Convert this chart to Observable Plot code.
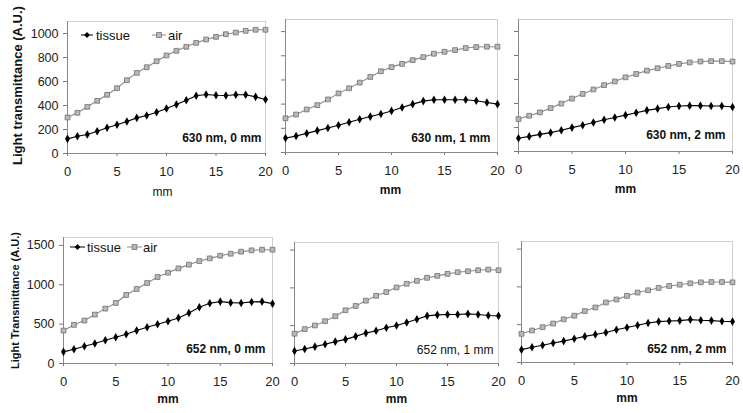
<!DOCTYPE html>
<html><head><meta charset="utf-8">
<script src="https://cdn.jsdelivr.net/npm/d3@7"></script>
<script src="https://cdn.jsdelivr.net/npm/@observablehq/plot@0.6"></script>
<style>
body{margin:0;background:#fff;font-family:"Liberation Sans",Arial,sans-serif}
#c{position:relative;width:743px;height:413px;overflow:hidden;background:#fff}
#c svg{position:absolute;left:0;top:0}
</style></head><body><div id="c"></div>
<script>
const mm = [0,1,2,3,4,5,6,7,8,9,10,11,12,13,14,15,16,17,18,19,20];
const xTicks = [0,5,10,15,20];
const yTicksTop = [0,200,400,600,800,1000];
const yTicksBottom = [0,500,1000,1500];
const seriesNames = ["tissue","air"];

const tissue630_0 = [122,144,158,186,214,239,267,297,317,344,375,408,444,481,492,486,483,489,489,472,450];
const air630_0    = [300,339,389,439,489,544,611,672,719,769,817,856,889,922,950,972,994,1008,1022,1031,1031];
const tissue630_1 = [119,136,158,181,203,225,250,275,297,319,344,372,400,425,436,436,436,436,428,414,400];
const air630_1    = [283,314,356,392,439,489,531,578,625,672,706,733,764,789,817,833,847,864,872,875,875];
const tissue630_2 = [110,126,143,157,177,199,219,242,264,284,303,323,343,357,371,379,382,382,379,379,371];
const air630_2    = [270,298,326,362,399,441,480,517,553,584,618,646,674,694,713,730,742,750,753,753,750];
const tissue652_0 = [148,182,220,253,296,334,372,418,461,499,537,579,642,714,765,786,773,769,782,786,760];
const air652_0    = [418,490,545,621,697,769,870,946,1022,1098,1153,1208,1255,1301,1335,1369,1394,1420,1437,1445,1445];
const tissue652_1 = [166,192,223,254,289,319,359,402,433,472,503,542,586,630,643,647,647,656,647,634,630];
const air652_1    = [394,455,503,560,625,704,761,831,896,945,1006,1054,1093,1133,1159,1185,1207,1220,1233,1242,1233];
const tissue652_2 = [170,201,227,257,283,314,345,371,397,432,462,493,523,541,549,554,567,558,554,545,541];
const air652_2    = [379,423,467,515,571,619,680,728,794,833,881,925,955,986,1012,1029,1047,1060,1064,1064,1060];

const panelLabels = ["630 nm, 0 mm","630 nm, 1 mm","630 nm, 2 mm","652 nm, 0 mm","652 nm, 1 mm","652 nm, 2 mm"];
const yLabels = ["Light transmittance (A.U.)","Light Transmittance (A.U.)"];
const xLabel = "mm";

const FONT = '"Liberation Sans", Arial, sans-serif';
const W = 743, H = 413;

const panels = [
  {t:tissue630_0,a:air630_0,label:panelLabels[0],bold:true,L:67,R:265,T:21,B:153,yMax:1100,yt:yTicksTop,
   showY:true,ylab:yLabels[0],ylabFs:13,ylabDx:-50,ylabDy:-2,ldx:-4,ldy:-12,xlDx:-4,xlDy:42,xlBold:false,legend:{y:35,x1:81,x2:93,tx:96,ax1:152,ax2:166,atx:168}},
  {t:tissue630_1,a:air630_1,label:panelLabels[1],bold:true,L:285,R:497,T:19,B:152,yMax:1100,yt:yTicksTop,
   showY:false,ldx:-7,ldy:-11,xlDx:-1,xlDy:41,xlBold:true},
  {t:tissue630_2,a:air630_2,label:panelLabels[2],bold:true,L:518,R:732,T:19,B:151,yMax:1100,yt:yTicksTop,
   showY:false,ldx:-7,ldy:-13,xlDx:0,xlDy:41,xlBold:true},
  {t:tissue652_0,a:air652_0,label:panelLabels[3],bold:true,L:63,R:272,T:237,B:363,yMax:1600,yt:yTicksBottom,
   showY:true,ylab:yLabels[1],ylabFs:11,ylabDx:-48,ylabDy:0,ldx:-7,ldy:-11,xlDx:0,xlDy:39,xlBold:true,legend:{y:247,x1:70,x2:85,tx:87,ax1:127,ax2:142,atx:143}},
  {t:tissue652_1,a:air652_1,label:panelLabels[4],bold:false,L:294,R:498,T:242,B:363,yMax:1600,yt:yTicksBottom,
   showY:false,ldx:-5,ldy:-10,xlDx:0,xlDy:39,xlBold:true},
  {t:tissue652_2,a:air652_2,label:panelLabels[5],bold:true,L:521,R:732,T:241,B:362,yMax:1600,yt:yTicksBottom,
   showY:false,ldx:-6,ldy:-10,xlDx:0,xlDy:39,xlBold:true}
];

const AIR_LINE = "#8c8c8c", AIR_FILL = "#b8b8b8", AIR_STROKE = "#707070";

function panel(p){
  const data = mm.map((m,i)=>({mm:m, tissue:p.t[i], air:p.a[i]}));
  const marks = [
    Plot.frame({stroke:"#cfcfcf"}),
    Plot.axisY({ticks:p.yt, tickSize:4, tickPadding:5, tickFormat: p.showY ? (d=>String(d)) : (()=>""), label:null, stroke:"#777", fill:"#222", fontSize:12.5}),
    Plot.axisX({ticks:xTicks, tickSize:3, tickPadding:10, label:null, stroke:"#777", fill:"#222", fontSize:13}),
    Plot.ruleX([0],{stroke:"#888"}),
    Plot.ruleY([0],{stroke:"#888"}),
    Plot.line(data,{x:"mm",y:"air",stroke:AIR_LINE,strokeWidth:1.1}),
    Plot.dot(data,{x:"mm",y:"air",symbol:"square",r:2.7,fill:AIR_FILL,stroke:AIR_STROKE,strokeWidth:0.8}),
    Plot.line(data,{x:"mm",y:"tissue",stroke:"#000",strokeWidth:1.1}),
    Plot.dot(data,{x:"mm",y:"tissue",symbol:"diamond",r:2.6,fill:"#000"}),
    Plot.text([p.label],{frameAnchor:"bottom-right",textAnchor:"end",dx:p.ldx,dy:p.ldy,fontSize:12,fontWeight:p.bold?"bold":"normal",fill:"#111"}),
    Plot.text([xLabel],{frameAnchor:"bottom",textAnchor:"middle",dx:p.xlDx,dy:p.xlDy,fontSize:12,fontWeight:p.xlBold?"bold":"normal",fill:"#111"})
  ];
  if (p.showY) marks.push(Plot.text([p.ylab],{frameAnchor:"left",textAnchor:"middle",lineAnchor:"middle",rotate:-90,dx:p.ylabDx,dy:p.ylabDy,fontSize:p.ylabFs,fontWeight:"bold",fill:"#111"}));
  return Plot.plot({
    width:W, height:H,
    marginLeft:p.L, marginRight:W-p.R, marginTop:p.T, marginBottom:H-p.B,
    style:{fontFamily:FONT, background:"transparent", overflow:"visible"},
    x:{domain:[0,20]}, y:{domain:[0,p.yMax]},
    marks
  });
}

const c = document.getElementById("c");
for (const p of panels) {
  c.appendChild(panel(p));
  if (p.legend) {
    const g = p.legend;
    const svg = d3.create("svg").attr("width",W).attr("height",H).style("font-family",FONT);
    svg.append("line").attr("x1",g.x1).attr("x2",g.x2).attr("y1",g.y).attr("y2",g.y).attr("stroke","#000");
    svg.append("path").attr("d",d3.symbol(d3.symbolDiamond2, 2.6*2.6*Math.PI)()).attr("transform",`translate(${(g.x1+g.x2)/2},${g.y})`).attr("fill","#000");
    svg.append("text").attr("x",g.tx).attr("y",g.y).attr("dy","0.35em").attr("font-size",13).attr("fill","#111").text(seriesNames[0]);
    svg.append("line").attr("x1",g.ax1).attr("x2",g.ax2).attr("y1",g.y).attr("y2",g.y).attr("stroke",AIR_LINE);
    svg.append("rect").attr("x",(g.ax1+g.ax2)/2-2.4).attr("y",g.y-2.4).attr("width",4.8).attr("height",4.8).attr("fill",AIR_FILL).attr("stroke",AIR_STROKE).attr("stroke-width",0.8);
    svg.append("text").attr("x",g.atx).attr("y",g.y).attr("dy","0.35em").attr("font-size",13).attr("fill","#111").text(seriesNames[1]);
    c.appendChild(svg.node());
  }
}
</script></body></html>
